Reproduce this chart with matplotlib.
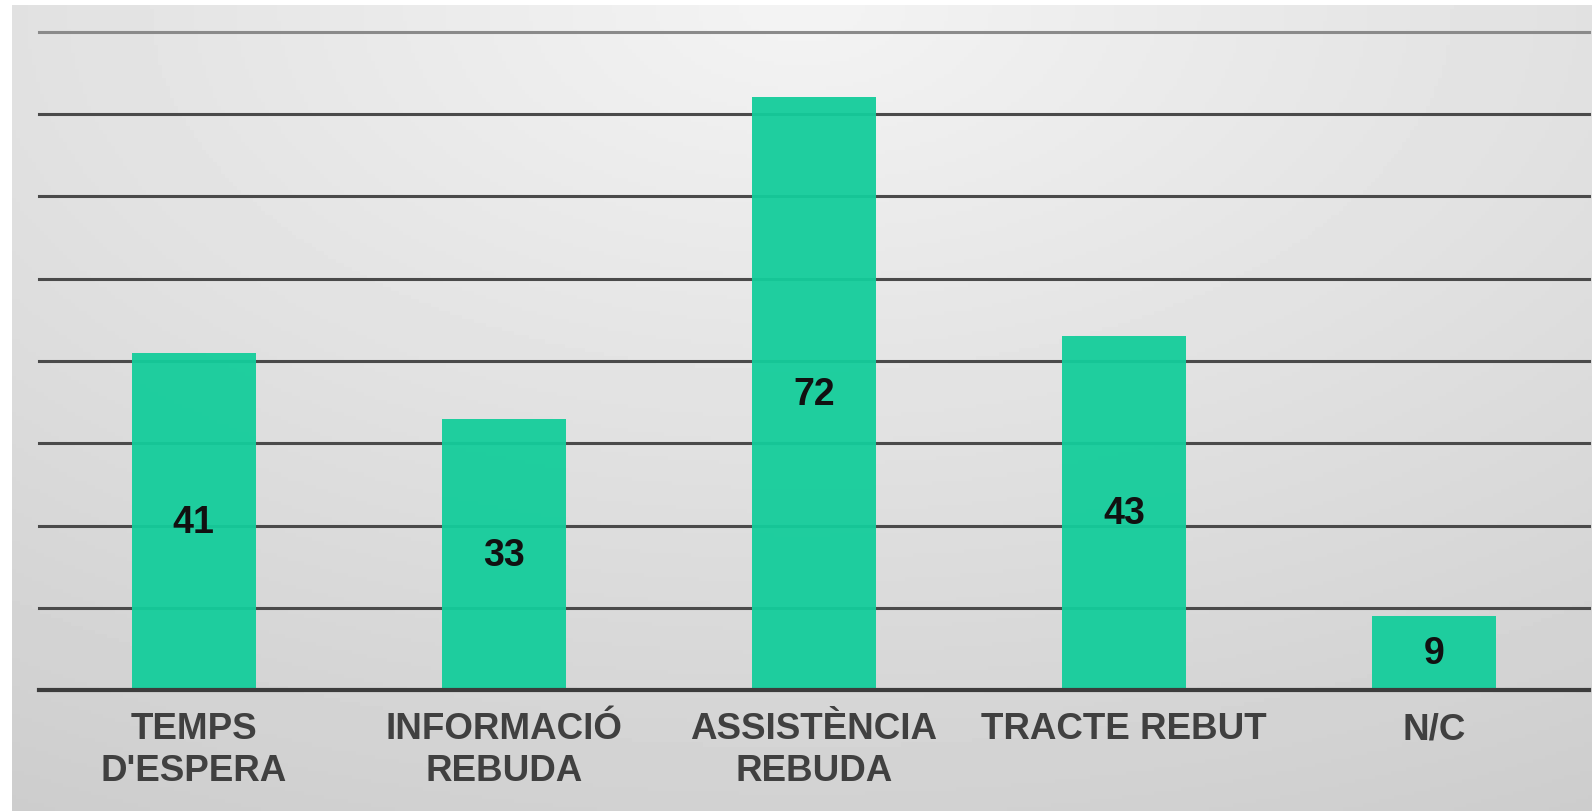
import numpy as np
import matplotlib
matplotlib.use('Agg')
import matplotlib.pyplot as plt

categories = ["TEMPS\nD'ESPERA", "INFORMACIÓ\nREBUDA", "ASSISTÈNCIA\nREBUDA", "TRACTE REBUT", "N/C"]
values = [41, 33, 72, 43, 9]
grid_levels = [10, 20, 30, 40, 50, 60, 70, 80]

plt.rcParams['font.family'] = ['Liberation Sans', 'DejaVu Sans']

fig = plt.figure(figsize=(15.92, 8.12), dpi=100, facecolor='white')

# gray gradient backdrop (lighter toward the top middle)
bg = fig.add_axes([12 / 1592, 0, 1 - 12 / 1592, 1 - 6 / 812])
yy, xx = np.mgrid[0:1:200j, 0:1:400j]
dist = np.sqrt(((xx - 0.5) * 1.1) ** 2 + (yy * 1.0) ** 2)
shade = 0.955 - 0.16 * np.clip(dist, 0, 1.2) / 1.2
bg.imshow(shade, cmap='gray', vmin=0, vmax=1, aspect='auto', extent=[0, 1, 1, 0])
bg.axis('off')

ax = fig.add_axes([38.6 / 1592, 120.6 / 812, (1589 - 38.6) / 1592, (691.4 - 32.5) / 812])
ax.patch.set_alpha(0)

x = np.arange(len(categories))
for lvl in grid_levels:
    col = '#8a8a8a' if lvl == 80 else '#4a4a4a'
    ax.axhline(lvl, color=col, lw=2.2, zorder=1, clip_on=False)
ax.axhline(0, color='#3c3c3c', lw=3, zorder=3, clip_on=False)

bars = ax.bar(x, values, width=0.4, color='#14cd9b', alpha=0.95, zorder=2)
for b, v in zip(bars, values):
    ax.text(b.get_x() + b.get_width() / 2, v / 2, str(v), ha='center', va='center',
            fontsize=27, fontweight='bold', color='#111111', zorder=4)

ax.set_xlim(-0.5, 4.5)
ax.set_ylim(0, 80)
ax.set_yticks([])
ax.set_xticks(x)
ax.set_xticklabels(categories, fontsize=26.5, fontweight='bold', color='#404040', linespacing=1.25)
ax.tick_params(axis='x', length=0, pad=15)
for s in ax.spines.values():
    s.set_visible(False)

fig.savefig('out.png', dpi=100, facecolor='white')
